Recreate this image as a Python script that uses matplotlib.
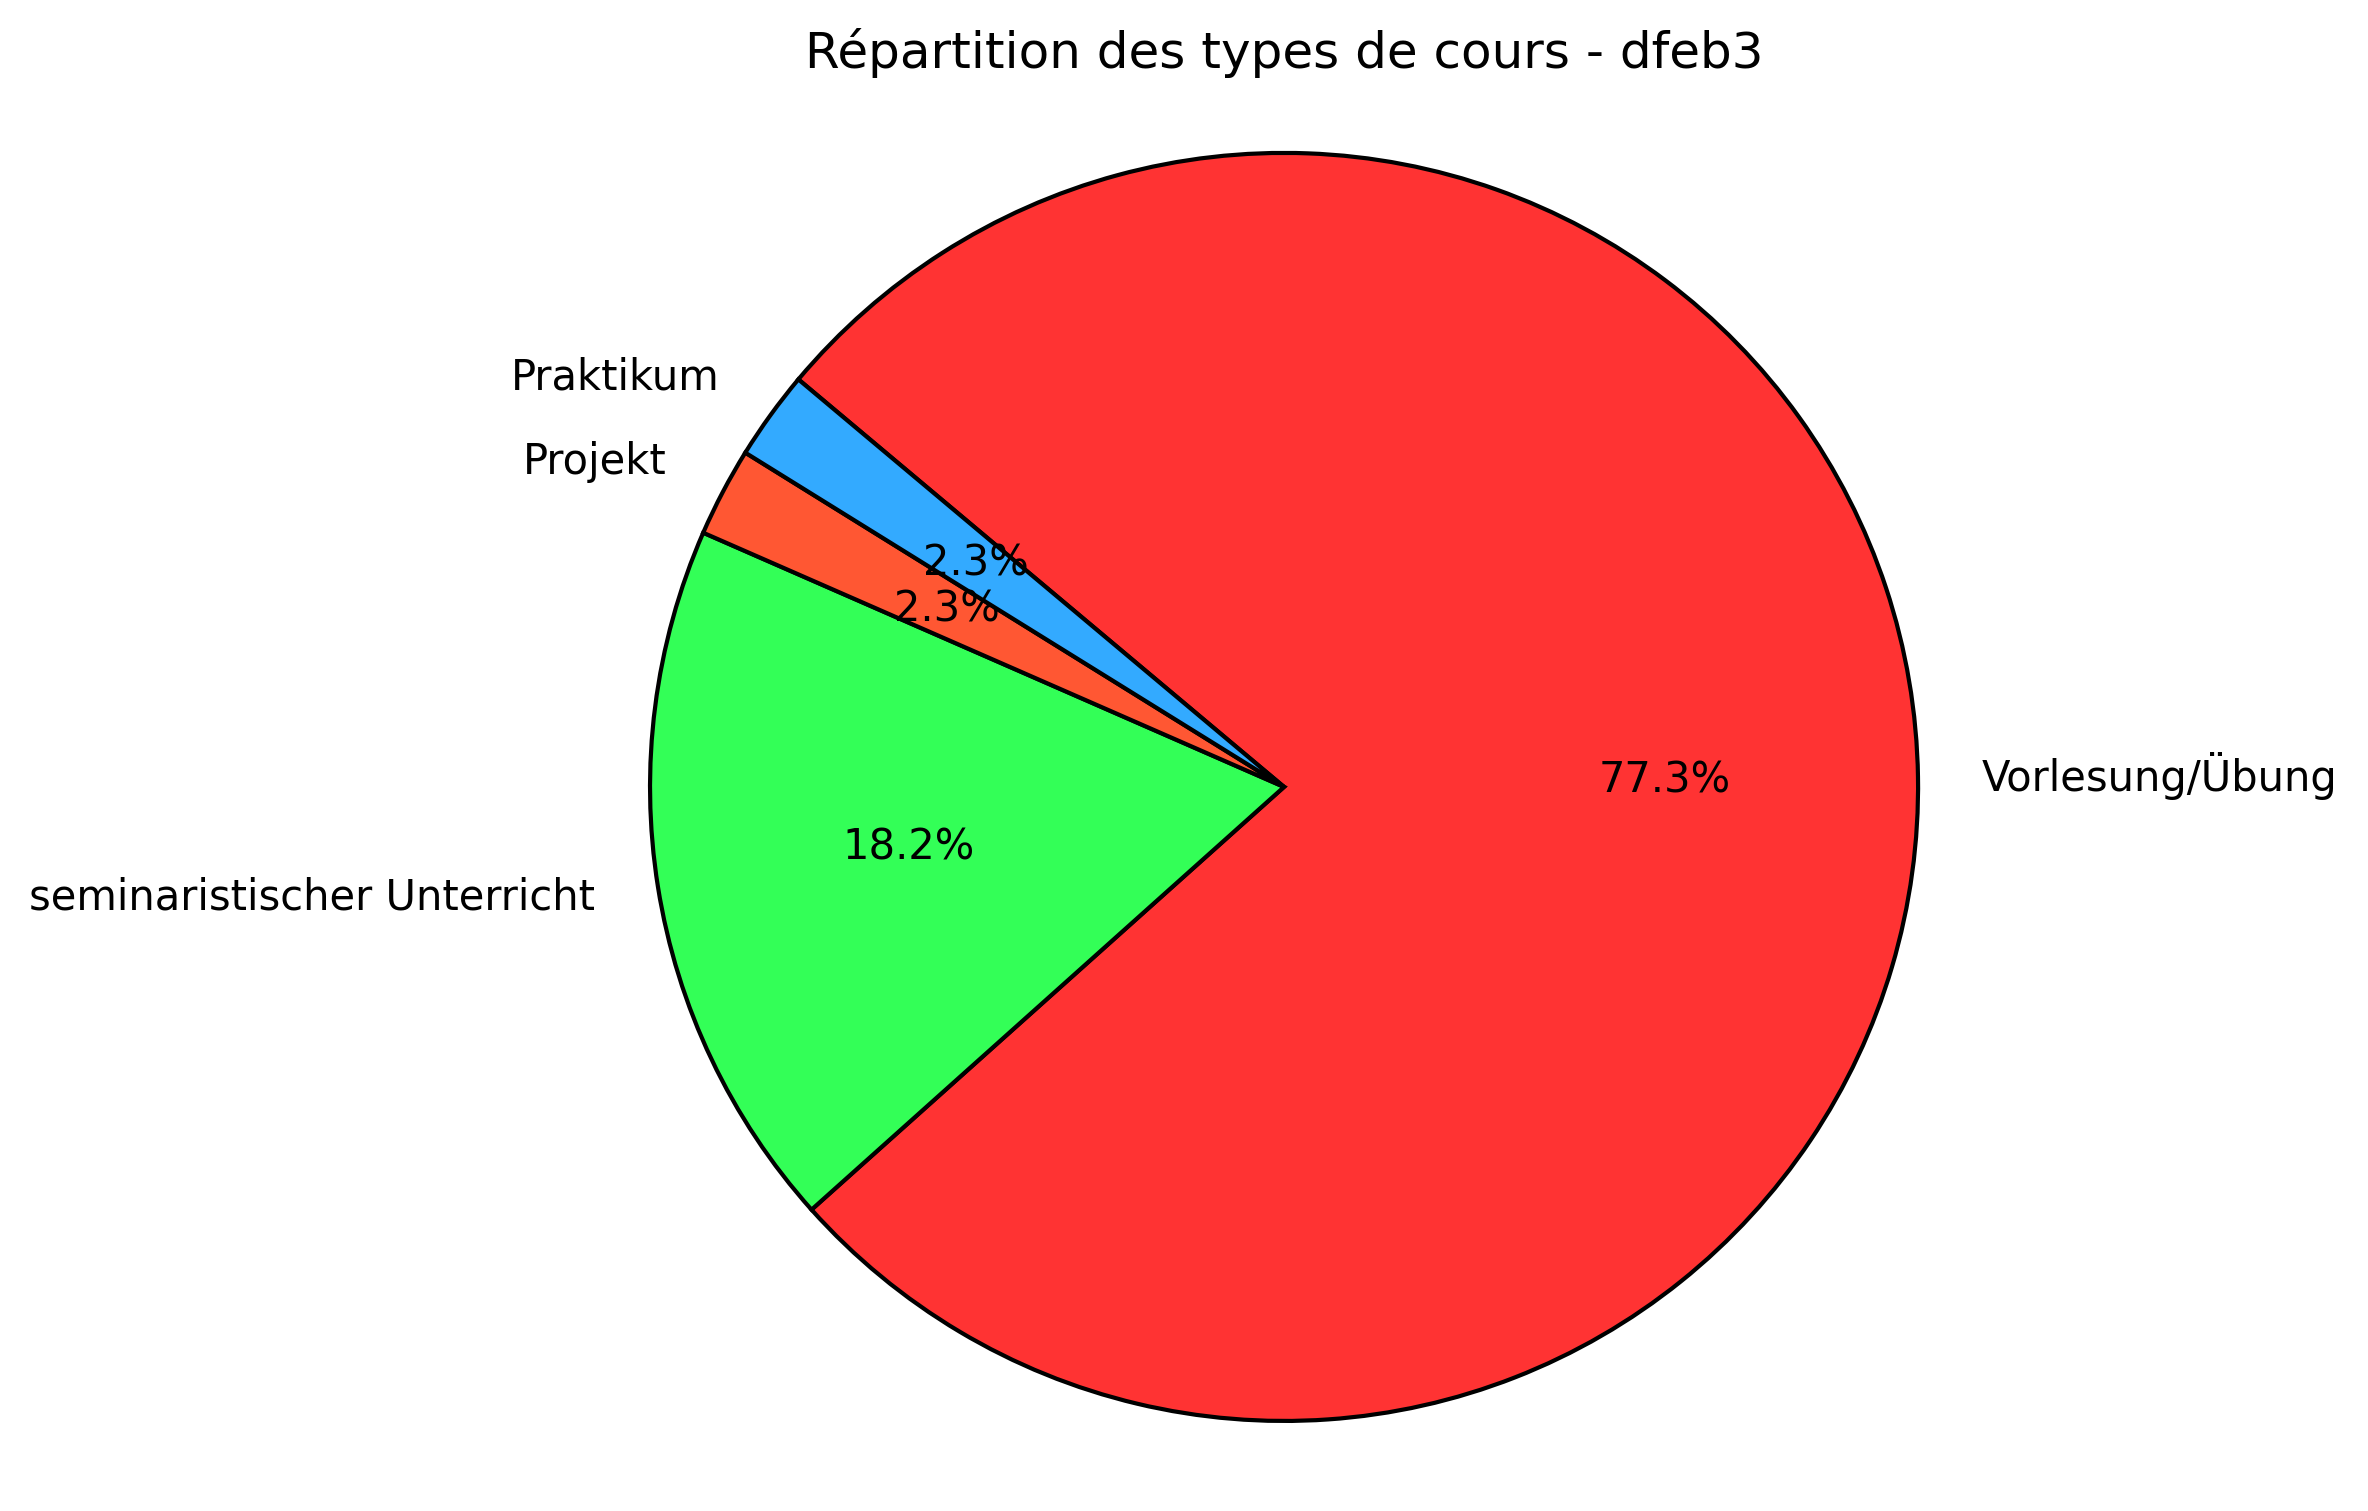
import matplotlib.pyplot as plt

labels = ['Vorlesung/Übung', 'seminaristischer Unterricht', 'Projekt', 'Praktikum']
counts = [34, 8, 1, 1]
colors = ['#FF3333', '#33FF57', '#FF5733', '#33AAFF']

fig = plt.figure(figsize=(11.84, 7.555), dpi=200)
# place axes so the pie sits where it does in the original
ax = fig.add_axes([0.2745, 0.0596, 0.5355, 0.8392])
ax.pie(counts, labels=labels, colors=colors, autopct='%1.1f%%',
       startangle=140, counterclock=False,
       wedgeprops={'edgecolor': 'black', 'linewidth': 1.5},
       textprops={'fontsize': 15})
ax.set_xlim(-1.0, 1.0)
ax.set_ylim(-1.0, 1.0)
ax.set_aspect('equal')
fig.text(0.5422, 0.965, 'Répartition des types de cours - dfeb3', fontsize=18,
         ha='center', va='center')
fig.savefig('out.png')
